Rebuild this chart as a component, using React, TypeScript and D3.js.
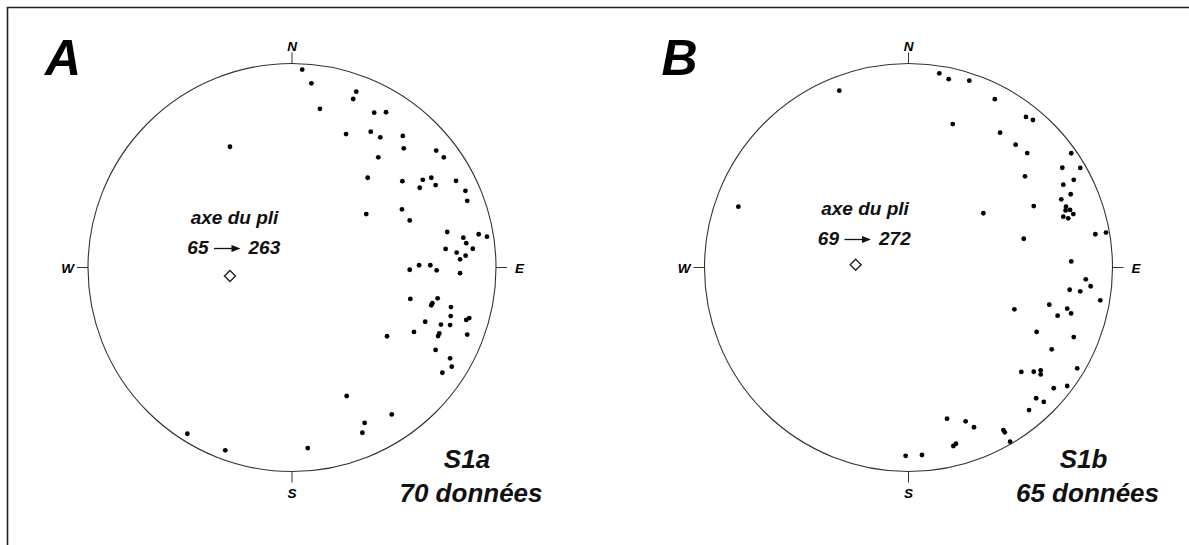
import React from "react";
import * as d3 from "d3";

// Poles projected on the equal-area net, as east / north in % of the primitive radius
const s1aEast = [5.0, 9.5, 31.5, 30.0, 13.7, 40.3, 46.1, 26.5, 38.6, 43.3, 54.3, 54.8, 70.7, 74.4, 42.3, 37.1, 54.1, 64.1, 68.3, 62.6, 70.4, 80.4, 85.0, 85.9, 36.4, 53.9, 57.7, 76.1, 84.0, 91.5, 95.6, 85.4, 75.3, 88.6, 80.7, 85.1, 82.4, 57.7, 62.3, 67.8, 70.9, 82.4, 58.0, 71.4, 68.8, 68.3, 77.9, 77.8, 85.4, 86.9, 65.3, 73.0, 77.5, 46.6, 59.8, 72.2, 71.6, 85.9, 70.4, 77.5, 78.3, 73.7, 26.8, 48.9, 35.6, 34.5, 7.7, -51.3, -32.7, -30.4];
const s1aNorth = [97.0, 90.3, 86.2, 82.6, 77.8, 75.9, 76.1, 65.4, 66.6, 63.8, 64.5, 58.4, 57.3, 54.0, 54.0, 44.0, 42.3, 43.0, 44.0, 39.1, 40.4, 42.5, 37.6, 32.7, 26.2, 28.5, 23.1, 17.4, 14.6, 16.3, 15.1, 11.9, 9.1, 9.2, 7.3, 5.8, 4.0, -1.1, 1.1, 1.1, -1.4, -2.8, -15.4, -15.1, -17.5, -18.5, -19.4, -23.8, -25.7, -24.8, -26.6, -28.0, -28.2, -33.7, -31.6, -32.3, -33.6, -32.9, -40.4, -44.5, -48.6, -51.6, -63.0, -72.0, -76.2, -81.0, -88.5, -81.5, -89.6, 59.2];

const s1bEast = [-33.9, 15.1, 19.7, 29.8, 42.3, 21.7, 44.9, -83.4, 36.7, 57.6, 61.0, 52.5, 58.2, 79.8, 75.4, 84.2, 57.1, 81.0, 75.9, 79.5, 74.9, 61.4, 77.2, 79.2, 80.8, 75.9, 78.3, 56.5, 91.6, 96.8, 79.8, 86.9, 89.3, 79.0, 84.2, 94.0, 51.9, 69.0, 77.8, 79.7, 73.1, 62.8, 81.0, 70.2, 55.3, 61.4, 64.8, 64.8, 82.7, 71.2, 77.8, 62.6, 66.3, 59.1, 18.9, 28.0, 32.1, 46.5, 47.2, 49.8, 23.3, 22.0, -1.4, 6.6, 77.0];
const s1bNorth = [86.7, 95.2, 92.3, 91.6, 82.5, 70.3, 66.1, 29.8, 26.6, 73.8, 72.3, 60.2, 56.1, 56.0, 48.9, 48.8, 44.7, 43.0, 40.6, 35.9, 33.4, 30.1, 29.8, 28.2, 26.2, 24.9, 24.1, 14.1, 16.3, 17.1, 3.0, -5.8, -9.2, -10.9, -11.7, -16.1, -20.5, -18.2, -20.2, -22.5, -23.6, -31.6, -34.1, -40.1, -51.2, -51.1, -50.4, -52.4, -49.4, -59.2, -58.1, -64.1, -65.9, -69.9, -74.1, -75.4, -78.3, -79.7, -80.8, -85.4, -86.4, -87.5, -92.3, -91.9, 28.0];

// Fold axes (east, north)
const axisA = [-30.4, -4.2];
const axisB = [-25.9, 1.4];

const panelLetters = ["A", "B"];
const setNames = ["S1a", "S1b"];
const countLabels = ["70 données", "65 données"];
const plungeLabels = ["65", "69"];
const trendLabels = ["263", "272"];
const cardinal = ["N", "E", "S", "W"];

const W = 1189;
const H = 545;
const R = 204;
const font = "'Liberation Sans', Arial, sans-serif";

type PanelProps = {
  cx: number;
  cy: number;
  east: number[];
  north: number[];
  axis: number[];
  letter: string;
  name: string;
  count: string;
  plunge: string;
  trend: string;
  labelX: number;
  labelY: number;
};

function Net(p: PanelProps) {
  const x = d3.scaleLinear().domain([-100, 100]).range([p.cx - R, p.cx + R]);
  const y = d3.scaleLinear().domain([-100, 100]).range([p.cy + R, p.cy - R]);
  const pts = p.east.map((e, i) => [e, p.north[i]]);
  const ax = x(p.axis[0]);
  const ay = y(p.axis[1]);
  const dm = 5.5;
  const tick = 11;
  const lx = p.labelX;
  const ly = p.labelY;
  const ly2 = ly + 30;
  const arrowY = ly + 24.5;
  const cf = 13.5;
  return (
    <g>
      <text x={p.cx - 247} y={p.cy - 193} fontFamily={font} fontWeight="bold" fontStyle="italic" fontSize={50} fill="#000">{p.letter}</text>
      <circle cx={x(0)} cy={y(0)} r={R} fill="none" stroke="#333" strokeWidth={1.1} />
      {/* cardinal ticks */}
      <line x1={x(0)} x2={x(0)} y1={y(100)} y2={y(100) - tick} stroke="#333" strokeWidth={1} />
      <line x1={x(0)} x2={x(0)} y1={y(-100)} y2={y(-100) + tick} stroke="#333" strokeWidth={1} />
      <line x1={x(-100)} x2={x(-100) - tick} y1={y(0)} y2={y(0)} stroke="#333" strokeWidth={1} />
      <line x1={x(100)} x2={x(100) + tick} y1={y(0)} y2={y(0)} stroke="#333" strokeWidth={1} />
      <text x={x(0)} y={y(100) - tick - 2} textAnchor="middle" fontFamily={font} fontWeight="bold" fontStyle="italic" fontSize={cf}>{cardinal[0]}</text>
      <text x={x(100) + tick + 8} y={y(0) + 5} textAnchor="start" fontFamily={font} fontWeight="bold" fontStyle="italic" fontSize={cf}>{cardinal[1]}</text>
      <text x={x(0)} y={y(-100) + tick + 15} textAnchor="middle" fontFamily={font} fontWeight="bold" fontStyle="italic" fontSize={cf}>{cardinal[2]}</text>
      <text x={x(-100) - tick - 3} y={y(0) + 5} textAnchor="end" fontFamily={font} fontWeight="bold" fontStyle="italic" fontSize={cf}>{cardinal[3]}</text>
      {pts.map((d, i) => (
        <circle key={i} cx={x(d[0])} cy={y(d[1])} r={2.4} fill="#000" />
      ))}
      <path d={`M${ax},${ay - dm} L${ax + dm},${ay} L${ax},${ay + dm} L${ax - dm},${ay} Z`} fill="#fff" stroke="#222" strokeWidth={1.4} />
      <text x={lx} y={ly} textAnchor="middle" fontFamily={font} fontWeight="bold" fontStyle="italic" fontSize={19} fill="#111">axe du pli</text>
      <text x={lx - 26} y={ly2} textAnchor="end" fontFamily={font} fontWeight="bold" fontStyle="italic" fontSize={19} fill="#111">{p.plunge}</text>
      <line x1={lx - 20.5} x2={lx + 0} y1={arrowY} y2={arrowY} stroke="#111" strokeWidth={1.3} />
      <path d={`M${lx + 6},${arrowY} L${lx - 3},${arrowY - 3.5} L${lx - 3},${arrowY + 3.5} Z`} fill="#111" />
      <text x={lx + 14} y={ly2} textAnchor="start" fontFamily={font} fontWeight="bold" fontStyle="italic" fontSize={19} fill="#111">{p.trend}</text>
      <text x={x(0) + 175} y={468} textAnchor="middle" fontFamily={font} fontWeight="bold" fontStyle="italic" fontSize={26} fill="#111">{p.name}</text>
      <text x={x(0) + 179} y={502} textAnchor="middle" fontFamily={font} fontWeight="bold" fontStyle="italic" fontSize={26} fill="#111">{p.count}</text>
    </g>
  );
}

export default function App() {
  return (
    <svg width={W} height={H} style={{ position: "absolute", left: 0, top: 0, display: "block", background: "#fff" }}>
      <rect x={0} y={0} width={W} height={H} fill="#fff" />
      <line x1={7.5} x2={7.5} y1={7} y2={H} stroke="#222" strokeWidth={1.6} />
      <line x1={7} x2={W} y1={7.5} y2={7.5} stroke="#222" strokeWidth={1.6} />
      <Net cx={292} cy={267.5} east={s1aEast} north={s1aNorth} axis={axisA} letter={panelLetters[0]} name={setNames[0]} count={countLabels[0]} plunge={plungeLabels[0]} trend={trendLabels[0]} labelX={234.5} labelY={224} />
      <Net cx={908.5} cy={267.5} east={s1bEast} north={s1bNorth} axis={axisB} letter={panelLetters[1]} name={setNames[1]} count={countLabels[1]} plunge={plungeLabels[1]} trend={trendLabels[1]} labelX={865} labelY={215} />
    </svg>
  );
}
